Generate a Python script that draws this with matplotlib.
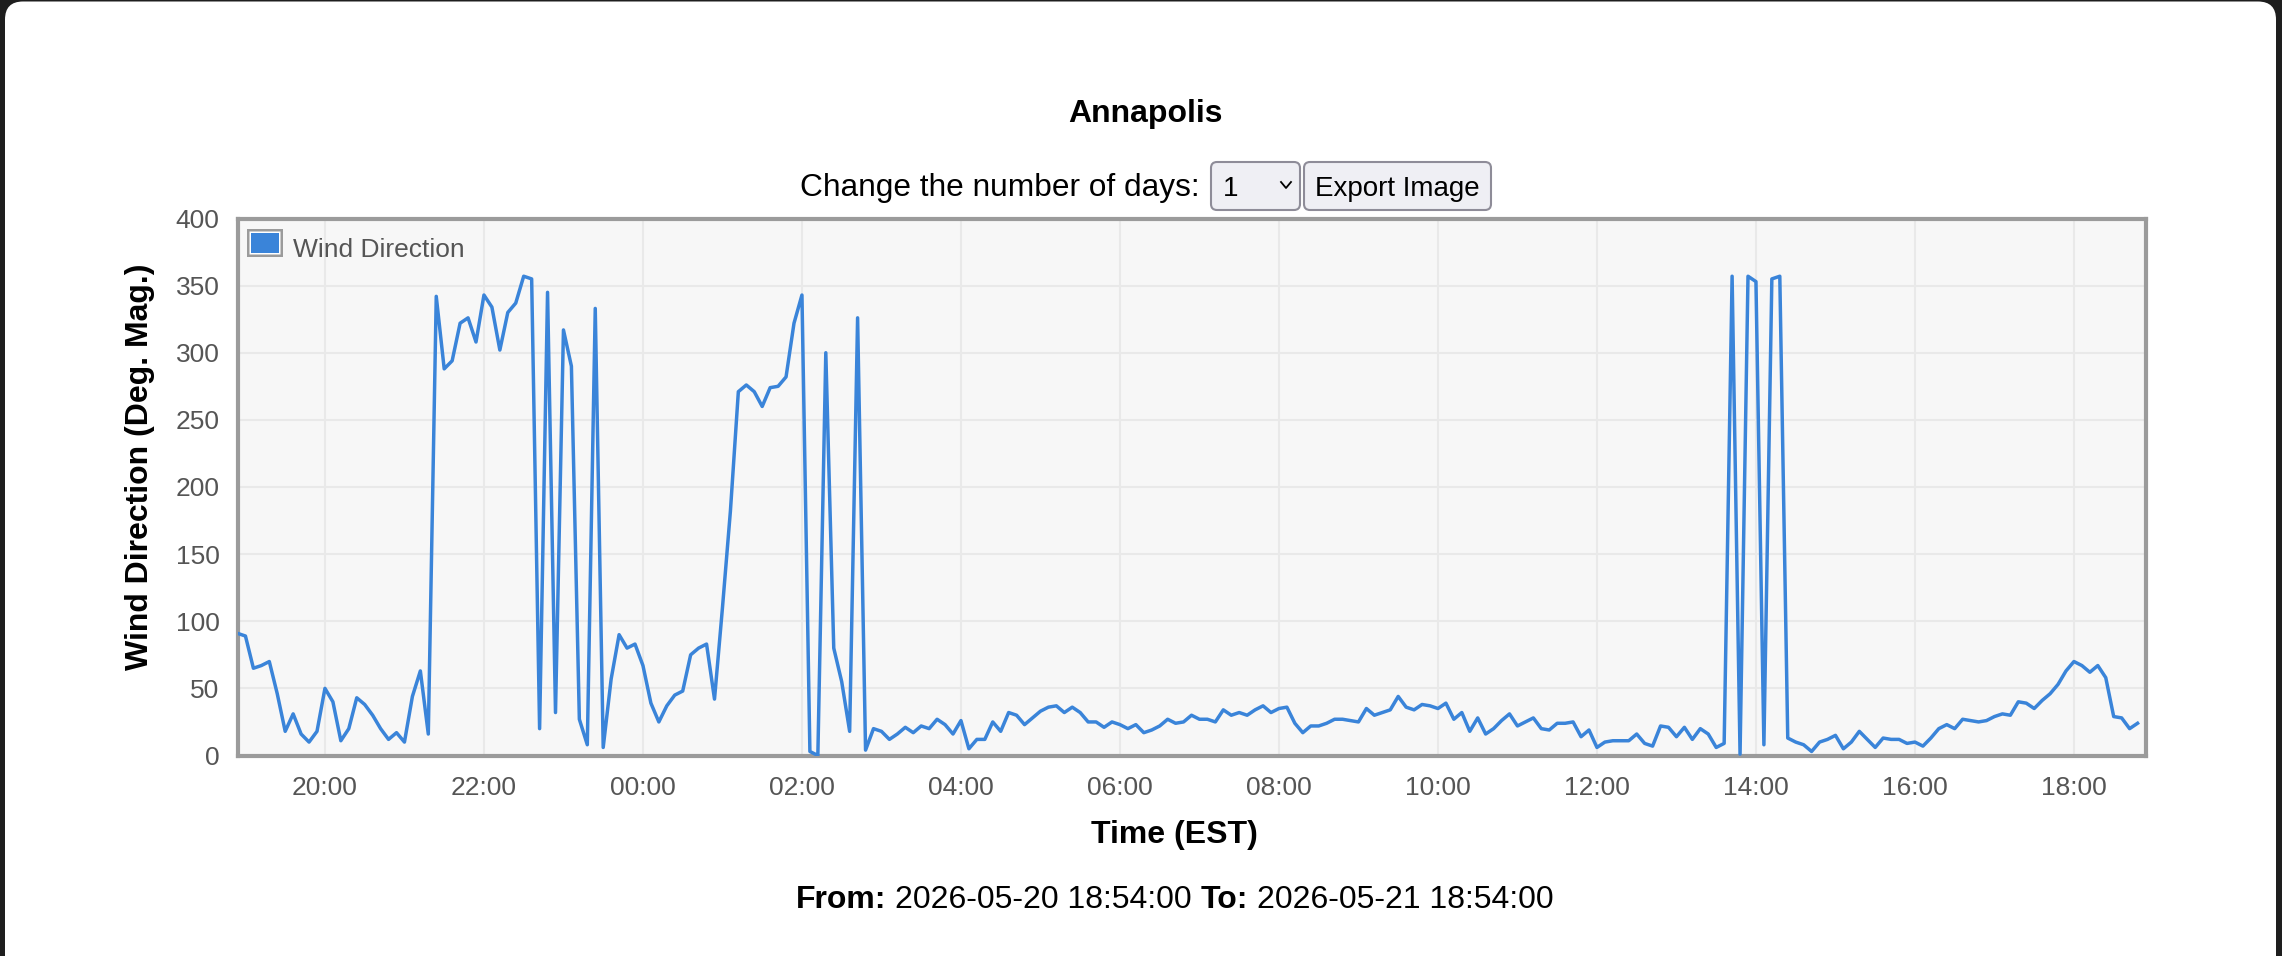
import matplotlib
matplotlib.use("Agg")
import matplotlib.pyplot as plt
import matplotlib.dates as mdates
from matplotlib.patches import FancyBboxPatch
from matplotlib.transforms import IdentityTransform
from matplotlib.lines import Line2D
import pandas as pd

W, H = 2282, 956
plt.rcParams['font.family'] = ['Liberation Sans', 'DejaVu Sans']

# ---------------- data ----------------
station = "Annapolis"
start = "2026-05-20 18:54:00"
end = "2026-05-21 18:54:00"
step = "6min"
wind_direction = [
    91, 89, 65, 67, 70, 46, 18, 31, 16, 10, 18, 50, 40, 11, 20, 43, 38, 30, 20, 12, 17, 10, 44, 63, 16,
    342, 288, 294, 322, 326, 308, 343, 334, 302, 330, 337, 357, 355, 20, 345, 32, 317, 290, 27, 8, 333, 6, 57, 90, 80,
    83, 67, 39, 25, 37, 45, 48, 75, 80, 83, 42, 110, 182, 271, 276, 271, 260, 274, 275, 282, 322, 343, 3, 0, 300,
    80, 55, 18, 326, 4, 20, 18, 12, 16, 21, 17, 22, 20, 27, 23, 16, 26, 5, 12, 12, 25, 18, 32, 30, 23,
    28, 33, 36, 37, 32, 36, 32, 25, 25, 21, 25, 23, 20, 23, 17, 19, 22, 27, 24, 25, 30, 27, 27, 25, 34,
    30, 32, 30, 34, 37, 32, 35, 36, 24, 17, 22, 22, 24, 27, 27, 26, 25, 35, 30, 32, 34, 44, 36, 34, 38,
    37, 35, 39, 27, 32, 18, 28, 16, 20, 26, 31, 22, 25, 28, 20, 19, 24, 24, 25, 14, 19, 6, 10, 11, 11,
    11, 16, 9, 7, 22, 21, 14, 21, 12, 20, 16, 6, 9, 357, 1, 357, 353, 8, 355, 357, 13, 10, 8, 3, 10,
    12, 15, 5, 10, 18, 12, 6, 13, 12, 12, 9, 10, 7, 13, 20, 23, 20, 27, 26, 25, 26, 29, 31, 30, 40,
    39, 35, 41, 46, 53, 63, 70, 67, 62, 67, 58, 29, 28, 20, 24,
]
y_ticks = [0, 50, 100, 150, 200, 250, 300, 350, 400]
series_label = "Wind Direction"
times = pd.date_range(start, periods=len(wind_direction), freq=step)

# ---------------- figure ----------------
fig = plt.figure(figsize=(W / 100, H / 100), dpi=100)
fig.patch.set_facecolor('#1e1e1e')
ID = IdentityTransform()


def box(x0, y0, x1, y1, r=0, **kw):
    p = FancyBboxPatch((x0, H - y1), x1 - x0, y1 - y0,
                       boxstyle=f"round,pad=0,rounding_size={r}",
                       transform=ID, **kw)
    fig.add_artist(p)
    return p


def txt(x, y, s, **kw):
    return fig.text(x, H - y, s, transform=ID, **kw)


# white dialog
box(5, 1.5, 2276, 990, r=18, facecolor='white', edgecolor='none', zorder=0)

# title and controls
txt(1145, 122, station, ha='center', va='baseline', fontsize=23,
    fontweight='bold', color='black')
txt(1200, 196, "Change the number of days:", ha='right', va='baseline',
    fontsize=22.8, color='black')
box(1211, 162, 1300, 210, r=6, facecolor='#efeff4', edgecolor='#8e8c98', linewidth=1.5)
box(1304, 162, 1491, 210, r=6, facecolor='#efeff4', edgecolor='#8e8c98', linewidth=1.5)
txt(1223, 196, "1", ha='left', va='baseline', fontsize=20, color='black')
fig.add_artist(Line2D([1281, 1286, 1291], [H - 182, H - 188, H - 182], transform=ID,
                      color='black', linewidth=1.3))
txt(1397, 196, "Export Image", ha='center', va='baseline', fontsize=20, color='black')

# axes
L, R, T, B = 237.5, 2145.5, 218.5, 755.5
ax = fig.add_axes([L / W, 1 - B / H, (R - L) / W, (B - T) / H])
ax.set_facecolor('#f7f7f7')
ax.plot(times, wind_direction, color='#3a84d9', linewidth=2.5, zorder=3)
ax.set_xlim(pd.Timestamp(start), pd.Timestamp(end))
ax.set_ylim(0, 400)
ax.set_yticks(y_ticks)
ax.xaxis.set_major_locator(mdates.HourLocator(byhour=range(0, 24, 2)))
ax.xaxis.set_major_formatter(mdates.DateFormatter('%H:%M'))
ax.grid(True, color='#e9e9e9', linewidth=1.5, zorder=0)
ax.set_axisbelow(True)
for s in ax.spines.values():
    s.set_color('#9b9b9b')
    s.set_linewidth(3)
ax.tick_params(axis='both', length=0, labelsize=19, labelcolor='#555555')
ax.tick_params(axis='y', pad=13)
ax.tick_params(axis='x', pad=15)

# legend (manual, chart.js style)
box(247, 229, 283, 257, facecolor='#9b9b9b', edgecolor='none', zorder=5)
box(249.5, 231.5, 280.5, 254.5, facecolor='white', edgecolor='none', zorder=6)
box(251, 233, 279, 253, facecolor='#3a84d9', edgecolor='none', zorder=7)
txt(293, 257, series_label, ha='left', va='baseline', fontsize=19, color='#555555', zorder=8)

# axis titles
txt(140, 467, "Wind Direction (Deg. Mag.)", rotation=90, ha='center', va='center',
    fontsize=23, fontweight='bold', color='black')
txt(1174, 843, "Time (EST)", ha='center', va='baseline', fontsize=23,
    fontweight='bold', color='black')

# footer
pieces = [("From:", 'bold'), ("2026-05-20 18:54:00", 'normal'),
          ("To:", 'bold'), ("2026-05-21 18:54:00", 'normal')]
renderer = fig.canvas.get_renderer()
fs = 23
space = 0.278 * fs / 72 * 100
objs, total = [], 0
for i, (s, w) in enumerate(pieces):
    t = txt(0, 908, s, ha='left', va='baseline', fontsize=fs, fontweight=w, color='black')
    wdt = t.get_window_extent(renderer).width
    objs.append((t, wdt))
    total += wdt + (space if i < len(pieces) - 1 else 0)
x = 1175 - total / 2
for t, wdt in objs:
    t.set_x(x)
    x += wdt + space

fig.savefig("out.png", dpi=100, facecolor=fig.get_facecolor())
